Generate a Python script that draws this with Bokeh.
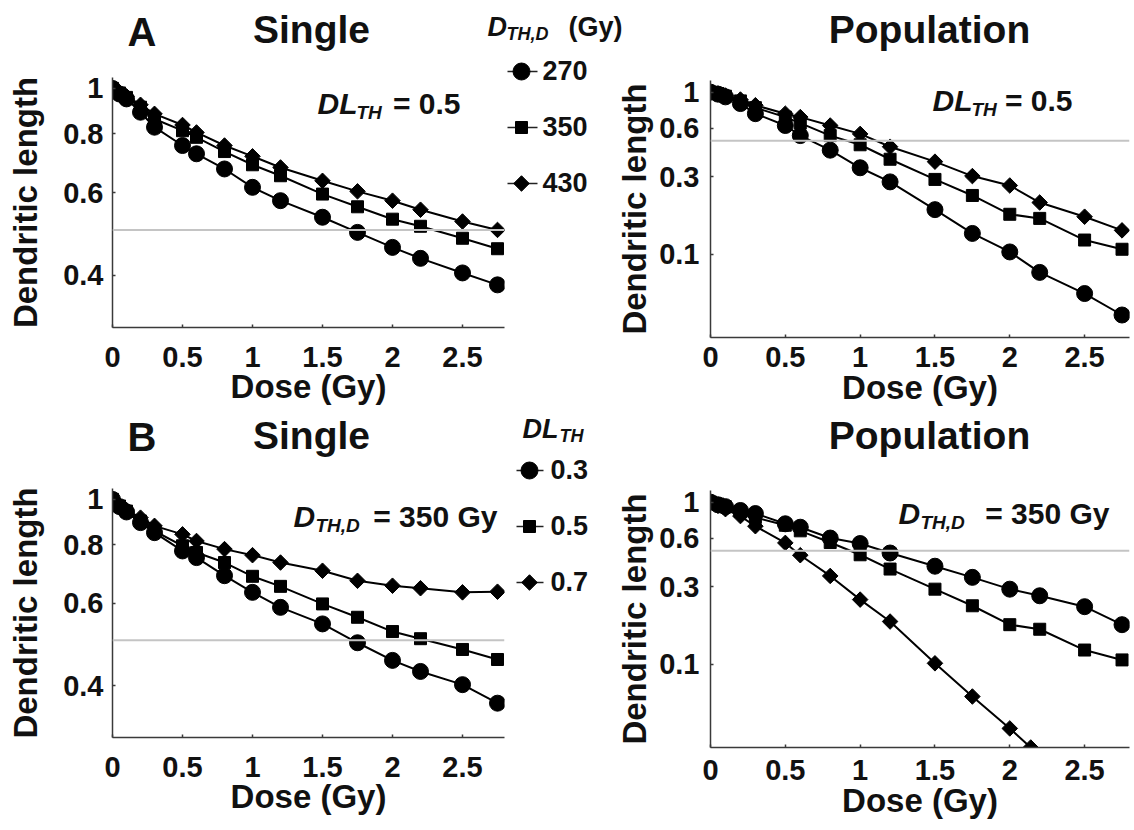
import math
from bokeh.plotting import figure
from bokeh.models import (Span, Label, FixedTicker, CustomJSTickFormatter, Range1d)
from bokeh.layouts import row, column
from bokeh.embed import file_html
from bokeh.resources import INLINE

# ---------------- data ----------------
dose = [0, 0.05, 0.1, 0.2, 0.3, 0.5, 0.6, 0.8, 1.0, 1.2, 1.5, 1.75, 2.0, 2.2, 2.5, 2.75]

# A: DL_TH = 0.5, series by D_TH,D (Gy)
single_270 = [1.0, 0.973, 0.950, 0.890, 0.827, 0.756, 0.726, 0.674, 0.616, 0.577, 0.532, 0.494, 0.459, 0.435, 0.405, 0.382]
single_350 = [1.0, 0.978, 0.957, 0.912, 0.861, 0.813, 0.787, 0.734, 0.688, 0.652, 0.596, 0.560, 0.527, 0.509, 0.480, 0.456]
single_430 = [1.0, 0.981, 0.962, 0.923, 0.883, 0.836, 0.806, 0.756, 0.717, 0.679, 0.636, 0.604, 0.577, 0.552, 0.521, 0.500]

pop_270 = [1.0, 0.972, 0.935, 0.850, 0.736, 0.622, 0.539, 0.438, 0.341, 0.279, 0.188, 0.134, 0.103, 0.077, 0.057, 0.042]
pop_350 = [1.0, 0.981, 0.944, 0.883, 0.802, 0.701, 0.643, 0.539, 0.473, 0.385, 0.289, 0.230, 0.176, 0.166, 0.122, 0.107]
pop_430 = [1.0, 0.981, 0.953, 0.900, 0.830, 0.736, 0.701, 0.622, 0.552, 0.460, 0.372, 0.303, 0.265, 0.208, 0.170, 0.140]

# B: D_TH,D = 350 Gy, series by DL_TH
single_dl03 = [1.0, 0.965, 0.940, 0.892, 0.849, 0.776, 0.751, 0.687, 0.633, 0.588, 0.542, 0.494, 0.453, 0.429, 0.402, 0.367]
single_dl05 = [1.0, 0.968, 0.944, 0.899, 0.856, 0.796, 0.770, 0.733, 0.685, 0.652, 0.598, 0.560, 0.522, 0.504, 0.478, 0.455]
single_dl07 = [1.0, 0.971, 0.949, 0.914, 0.878, 0.842, 0.815, 0.783, 0.760, 0.733, 0.704, 0.670, 0.654, 0.646, 0.633, 0.635]

pop_dl03 = [1.0, 0.963, 0.938, 0.888, 0.850, 0.735, 0.700, 0.600, 0.555, 0.485, 0.402, 0.343, 0.290, 0.264, 0.226, 0.175]
pop_dl05 = [1.0, 0.972, 0.935, 0.875, 0.804, 0.720, 0.665, 0.563, 0.473, 0.386, 0.290, 0.229, 0.175, 0.164, 0.122, 0.106]
dose_dl07 = [0, 0.05, 0.1, 0.2, 0.3, 0.5, 0.6, 0.8, 1.0, 1.2, 1.5, 1.75, 2.0, 2.14]
pop_dl07 = [1.0, 0.949, 0.905, 0.820, 0.710, 0.560, 0.470, 0.350, 0.250, 0.183, 0.101, 0.063, 0.040, 0.0305]

legend_A = ["270", "350", "430"]
legend_B = ["0.3", "0.5", "0.7"]
threshold = 0.5
x_ticks = [0, 0.5, 1, 1.5, 2, 2.5]
y_ticks_single = [0.4, 0.6, 0.8, 1]
y_ticks_pop = [0.1, 0.3, 0.6, 1]
x_lim = (0, 2.8)
y_lim_single = (0.31, 1.055)
y_lim_pop = (0.0305, 1.18)

FONT = "Liberation Sans"
FMT = "return tick.toString();"
INK = "#111111"
BASE_FIX = 0.39   # Bokeh draws 'alphabetic' labels this many em lower
markers = ["circle", "square", "diamond"]
MARKER_SIZE = {"circle": 16, "square": 12, "diamond": 11}
KEY_SIZE = {"circle": 17, "square": 12, "diamond": 11}


def no_align(p):
    if "frame_align" in p.properties():
        p.frame_align = False
    return p


def make_panel(width, height, borders, y_lim, y_ticks, x_std, x_lab_std, y_std, y_lab_std):
    left, right, top, bottom = borders
    p = figure(width=width, height=height, x_range=Range1d(*x_lim),
               y_range=Range1d(*y_lim), y_axis_type="log",
               output_backend="svg", toolbar_location=None,
               min_border_left=left, min_border_right=right,
               min_border_top=top, min_border_bottom=bottom)
    no_align(p)
    p.outline_line_color = None
    p.grid.visible = False
    for ax in (p.xaxis[0], p.yaxis[0]):
        ax.axis_line_color = "#3a3a3a"
        ax.axis_line_width = 1.5
        ax.major_tick_line_color = "#3a3a3a"
        ax.major_tick_line_width = 1.5
        ax.major_tick_in = 3
        ax.major_tick_out = 0
        ax.minor_tick_line_color = None
        ax.major_label_text_font = FONT
        ax.major_label_text_font_size = "29px"
        ax.major_label_text_font_style = "bold"
        ax.major_label_text_color = INK
        ax.axis_label_text_font = FONT
        ax.axis_label_text_font_size = "33px"
        ax.axis_label_text_font_style = "bold"
        ax.axis_label_text_color = INK
        ax.formatter = CustomJSTickFormatter(code=FMT)
    p.xaxis.ticker = FixedTicker(ticks=x_ticks)
    p.yaxis.ticker = FixedTicker(ticks=y_ticks)
    p.xaxis.axis_label = "Dose (Gy)"
    p.yaxis.axis_label = "Dendritic length"
    p.xaxis.major_label_standoff = x_std
    p.xaxis.axis_label_standoff = x_lab_std
    p.yaxis.major_label_standoff = y_std
    p.yaxis.axis_label_standoff = y_lab_std
    p.add_layout(Span(location=threshold, dimension="width",
                      line_color="#c4c4c4", line_width=2))
    return p


def blank(width, height):
    p = figure(width=width, height=height, x_range=Range1d(0, width),
               y_range=Range1d(0, height), x_axis_location=None,
               y_axis_location=None, toolbar_location=None,
               output_backend="svg", min_border=0)
    no_align(p)
    p.grid.visible = False
    p.outline_line_color = None
    return p


def draw_marker(p, xs, ys, marker, size):
    if marker == "diamond":
        return p.scatter(xs, ys, marker="square", size=size, angle=math.pi / 4,
                         fill_color="black", line_color="black")
    return p.scatter(xs, ys, marker=marker, size=size,
                     fill_color="black", line_color="black")


def draw_series(p, xs, ys, marker):
    p.line(xs, ys, line_color="black", line_width=2)
    draw_marker(p, xs, ys, marker, MARKER_SIZE[marker])


def label(p, frame, text, X, Y, size, style="bold", align="left"):
    """Place text with its baseline at page position (X, Y)."""
    fl, fb = frame
    p.add_layout(Label(x=X - fl, y=fb - Y + BASE_FIX * size,
                       x_units="screen", y_units="screen",
                       text=text, text_font=FONT, text_font_size=f"{size}px",
                       text_font_style=style, text_align=align,
                       text_baseline="alphabetic", text_color=INK))


def legend_keys(lf, origin, names, stub, mark_x, text_x, rows):
    """Legend keys drawn in a small canvas; origin = page (left, bottom)."""
    ox, oy = origin
    for name, m, Y in zip(names, markers, rows):
        ly = oy - Y
        lf.segment(x0=[stub[0] - ox], y0=[ly], x1=[stub[1] - ox], y1=[ly],
                   line_color="#222222", line_width=1.5)
        draw_marker(lf, [mark_x - ox], [ly], m, KEY_SIZE[m])
        label(lf, origin, name, text_x, Y + 9.7, 27)


# ---------------- header A (page y 0-56) ----------------
hA = blank(1133, 56)
HA = (0, 56)
label(hA, HA, "A", 127, 47, 40)
label(hA, HA, "Single", 311, 44, 39, align="center")
label(hA, HA, "Population", 929, 44, 39, align="center")
label(hA, HA, "D", 487, 37, 27, style="bold italic")
label(hA, HA, "TH,D", 506, 41, 18, style="bold italic")
label(hA, HA, "(Gy)", 568, 37, 27)

# ---------------- row A (page y 56-414) ----------------
TLf = (112, 327)
tl = make_panel(506, 358, (112, 2, 21, 87), y_lim_single, y_ticks_single, 19, -2, 9, 16)
for ys, m in zip([single_270, single_350, single_430], markers):
    draw_series(tl, dose, ys, m)
label(tl, TLf, "DL", 317, 115, 30, style="bold italic")
label(tl, TLf, "TH", 356, 119, 19, style="bold italic")
label(tl, TLf, "= 0.5", 460, 115, 30, align="right")

legA = blank(106, 358)
legend_keys(legA, (506, 414), legend_A, (507, 537), 521, 542, [71, 127, 183])

TRf = (710, 337)
tr = make_panel(521, 358, (98, 4, 24, 77), y_lim_pop, y_ticks_pop, 9, -1, 11, 3)
for ys, m in zip([pop_270, pop_350, pop_430], markers):
    draw_series(tr, dose, ys, m)
label(tr, TRf, "DL", 932, 112, 30, style="bold italic")
label(tr, TRf, "TH", 971, 116, 19, style="bold italic")
label(tr, TRf, "= 0.5", 1072, 112, 30, align="right")

# ---------------- row B (page y 414-829) ----------------
hBl = blank(506, 47)
label(hBl, (0, 461), "B", 127, 452, 40)
label(hBl, (0, 461), "Single", 311, 450, 39, align="center")

BLf = (112, 737)
bl = make_panel(506, 368, (112, 2, 27, 92), y_lim_single, y_ticks_single, 19, -2, 9, 16)
for ys, m in zip([single_dl03, single_dl05, single_dl07], markers):
    draw_series(bl, dose, ys, m)
label(bl, BLf, "D", 293, 528, 30, style="bold italic")
label(bl, BLf, "TH,D", 315, 532, 19, style="bold italic")
label(bl, BLf, "= 350 Gy", 497, 528, 30, align="right")

legB = blank(106, 415)
label(legB, (506, 829), "DL", 522, 439, 27, style="bold italic")
label(legB, (506, 829), "TH", 559, 443, 18, style="bold italic")
legend_keys(legB, (506, 829), legend_B, (516, 543), 529, 550, [470, 526, 582])

hBr = blank(521, 47)
label(hBr, (612, 461), "Population", 929, 450, 39, align="center")

BRf = (710, 747)
br = make_panel(521, 368, (98, 4, 29, 82), y_lim_pop, y_ticks_pop, 12, -1, 11, 3)
draw_series(br, dose, pop_dl03, "circle")
draw_series(br, dose, pop_dl05, "square")
draw_series(br, dose_dl07, pop_dl07, "diamond")
label(br, BRf, "D", 898, 525, 30, style="bold italic")
label(br, BRf, "TH,D", 920, 529, 19, style="bold italic")
label(br, BRf, "= 350 Gy", 1109, 525, 30, align="right")

layout = column(hA,
                row(tl, legA, tr),
                row(column(hBl, bl), legB, column(hBr, br)))
open("out.html", "w").write(file_html(layout, INLINE))
